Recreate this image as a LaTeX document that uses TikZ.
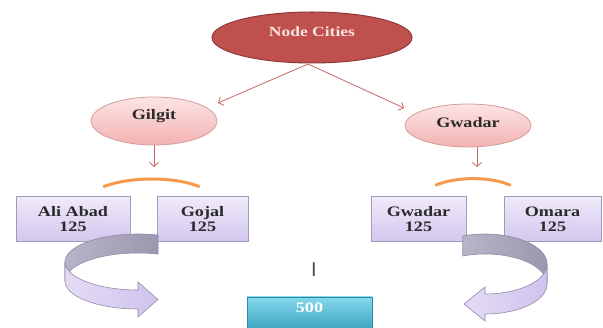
\documentclass[tikz,border=0pt]{standalone}
\usepackage{fontspec}
\newfontfamily\tf[FakeStretch=1.25]{Liberation Serif}
\newfontfamily\sff{Liberation Sans}
\usetikzlibrary{shapes.geometric,arrows.meta}
\definecolor{ncfill}{HTML}{C0504D}
\definecolor{ncdraw}{HTML}{8E3A38}
\definecolor{nctext}{HTML}{F7E5E3}
\definecolor{pinktop}{HTML}{FCE4E4}
\definecolor{pinkbot}{HTML}{F3B2B2}
\definecolor{pinkdraw}{HTML}{D79C9C}
\definecolor{lavtop}{HTML}{F0EAF9}
\definecolor{lavbot}{HTML}{D3C7EE}
\definecolor{lavdraw}{HTML}{A29ABD}
\definecolor{arrred}{HTML}{C86663}
\definecolor{orangec}{HTML}{F59A4C}
\definecolor{cyantop}{HTML}{86D8EC}
\definecolor{cyanbot}{HTML}{3CA6C2}
\definecolor{cyandraw}{HTML}{2E8AA3}
\definecolor{graylt}{HTML}{B9B4C8}
\definecolor{graydk}{HTML}{9C96AE}
\definecolor{bandlt}{HTML}{E4DCF6}
\definecolor{banddk}{HTML}{CFC3EC}
\definecolor{banddraw}{HTML}{918AA8}
\definecolor{txt}{HTML}{2A2A2A}
\begin{document}
\begin{tikzpicture}[x=1pt,y=-1pt,
  topcity/.style={ellipse, draw=ncdraw, line width=1pt, fill=ncfill,
    inner sep=0pt, minimum width=200pt, minimum height=51pt,
    text=nctext, font={\tf\bfseries\fontsize{14}{15}\selectfont},
    text height=10pt, text depth=11pt},
  city/.style={ellipse, draw=pinkdraw, line width=0.8pt, top color=pinktop, bottom color=pinkbot,
    inner sep=0pt, minimum width=126pt, text=txt,
    font={\tf\bfseries\fontsize{14.5}{15}\selectfont}},
  townbox/.style={rectangle, draw=lavdraw, line width=0.8pt, top color=lavtop, bottom color=lavbot,
    inner sep=0pt, minimum height=45pt, align=center, text=txt,
    font={\tf\bfseries\fontsize{14.5}{15}\selectfont}},
  totalbox/.style={rectangle, draw=cyandraw, line width=0.8pt, top color=cyantop, bottom color=cyanbot,
    inner sep=0pt, minimum width=125pt, minimum height=32pt, text=white,
    font={\tf\bfseries\fontsize{14.5}{15}\selectfont}, text height=10pt, text depth=10pt},
  arr/.style={draw=arrred, line width=0.8pt, -{Straight Barb[length=4pt,width=9pt]}},
  brace/.style={draw=orangec, line width=3pt, line cap=round},
  backband/.style={left color=graylt, right color=graydk, draw=banddraw, line width=0.6pt},
  frontband/.style={left color=bandlt, right color=banddk, draw=banddraw, line width=0.6pt}
]
\useasboundingbox (0,0) rectangle (603,328);
\clip (0,0) rectangle (603,328);

% top node
\node[topcity] (nc) at (312,37.5) {Node Cities\hspace{17pt}};
\coordinate (ncb) at (308,64);

% city ellipses
\node[city, minimum height=48pt, text height=10pt, text depth=12pt] (gil) at (154,121) {Gilgit};
\node[city, minimum height=43pt, text height=10pt, text depth=5pt] (gwa) at (468,125.5) {Gwadar};

\coordinate (gilend) at (218,103);
\coordinate (gwaend) at (404,108);
\draw[arr] (ncb) -- (gilend);
\draw[arr] (ncb) -- (gwaend);

\coordinate (gildown) at (154,167);
\coordinate (gwadown) at (477,167);
\draw[arr] (gil.south) -- (gildown);
\draw[arr] (gwa.south -| gwadown) -- (gwadown);

% orange arcs
\draw[brace] (104,186.5) .. controls (130,176.5) and (174,176.5) .. (199,186.5);
\draw[brace] (436,185) .. controls (457,176.5) and (490,176.5) .. (510,185);

% boxes
\node[townbox, minimum width=114pt] (ali) at (73,219) {Ali Abad\\125};
\node[townbox, minimum width=91pt] (goj) at (202.5,219) {Gojal\\125};
\node[townbox, minimum width=95pt] (gwb) at (418.5,219) {Gwadar\\125};
\node[townbox, minimum width=97pt] (oma) at (552.5,219) {Omara\\125};

% left curved arrow
\path[backband]
  plot[domain=74:180, samples=40] ({138+73*cos(\x)},{262-28*sin(\x)})
  -- plot[domain=180:74, samples=40] ({138+73*cos(\x)},{281-28*sin(\x)}) -- cycle;
\path[frontband]
  plot[domain=180:270, samples=40] ({138+73*cos(\x)},{262-28*sin(\x)})
  -- (138,282) -- (158,299.5) -- (138,317) -- (138,309)
  -- plot[domain=270:180, samples=40] ({138+73*cos(\x)},{281-28*sin(\x)}) -- cycle;

% right curved arrow
\path[backband]
  plot[domain=111:0, samples=40] ({485+62*cos(\x)},{264-30*sin(\x)})
  -- plot[domain=0:111, samples=40] ({485+62*cos(\x)},{284-30*sin(\x)}) -- cycle;
\path[frontband]
  plot[domain=0:-90, samples=40] ({485+62*cos(\x)},{264-30*sin(\x)})
  -- (485,287) -- (464,304) -- (485,321) -- (485,314)
  -- plot[domain=-90:0, samples=40] ({485+62*cos(\x)},{284-30*sin(\x)}) -- cycle;

% mark and total
\node[text=txt!85, font={\sff\fontsize{20}{20}\selectfont}, inner sep=0pt] (mark) at (314,270) {I};
\node[totalbox] (tot) at (309.5,313) {500};
\end{tikzpicture}
\end{document}
